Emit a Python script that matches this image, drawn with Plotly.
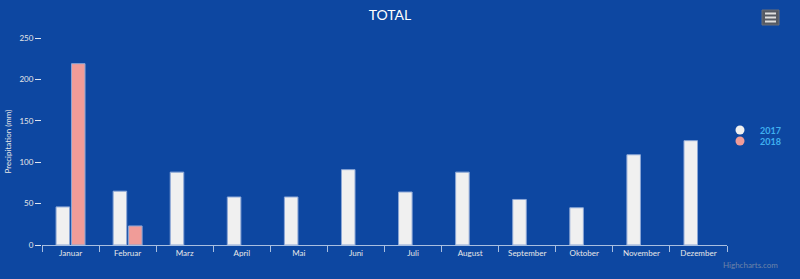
import plotly.graph_objects as go

months = ["Januar", "Februar", "Marz", "April", "Mai", "Juni", "Juli",
          "August", "September", "Oktober", "November", "Dezember"]
series_names = ["2017", "2018"]
values_2017 = [46, 65, 88, 58, 58, 91, 64, 88, 55, 45, 109, 126]
values_2018 = [219, 23, None, None, None, None, None, None, None, None, None, None]
y_ticks = [0, 50, 100, 150, 200, 250]

colors = ["#f0f0f0", "#f09c98"]
BG = "#0d47a1"
W, H = 800, 279
L, R, T, B = 42, 73, 38, 34
pw = W - L - R
ph = H - T - B

def px_x(px):
    return (px - L) / pw

def px_y(py):
    return (H - B - py) / ph

font_family = "Lato, 'Open Sans', sans-serif"
legend_ids = ["legend", "legend2"]
legend_y_px = [130, 141]

fig = go.Figure()
for name, vals, col in zip(series_names, [values_2017, values_2018], colors):
    fig.add_trace(go.Bar(
        x=months, y=vals, name=name, showlegend=False,
        marker=dict(color=col, line=dict(color="#8aa6d6", width=1)),
    ))
for name, col, lid in zip(series_names, colors, legend_ids):
    # legend entry with circle symbol
    fig.add_trace(go.Scatter(
        x=[None], y=[None], mode="markers", name=name, legend=lid,
        marker=dict(symbol="circle", size=9, color=col),
    ))

def legend_cfg(py):
    return dict(x=px_x(720), y=px_y(py), xanchor="left", yanchor="middle",
                xref="paper", yref="paper", bgcolor="rgba(0,0,0,0)",
                borderwidth=0, itemwidth=30,
                font=dict(family=font_family, size=9, color="#3fb0f0", weight="bold"))

fig.update_layout(
    width=W, height=H,
    margin=dict(l=L, r=R, t=T, b=B, autoexpand=False),
    paper_bgcolor=BG, plot_bgcolor=BG,
    barmode="group", bargap=0.46, bargroupgap=0.12,
    title=dict(text="TOTAL", x=390 / W, xref="container", xanchor="center",
               y=1 - 15 / H, yref="container", yanchor="middle",
               font=dict(family=font_family, size=14, color="#ffffff")),
    font=dict(family=font_family, color="#e0e0e0"),
    legend=legend_cfg(legend_y_px[0]),
    legend2=legend_cfg(legend_y_px[1]),
    xaxis=dict(
        categoryorder="array", categoryarray=months,
        showgrid=False, zeroline=False,
        showline=True, linecolor="#a9bfe0", linewidth=1,
        ticks="outside", tickson="boundaries", ticklen=6, tickcolor="#a9bfe0",
        tickfont=dict(size=8, color="#e8e8e8"),
        fixedrange=True,
    ),
    yaxis=dict(
        range=[0, 250], tickvals=y_ticks,
        showgrid=False, zeroline=False, showline=False,
        ticks="outside", ticklen=6, tickcolor="#dfe6f2", tickwidth=1,
        tickfont=dict(size=8, color="#e8e8e8"),
        title=dict(text="Precipitation (mm)", font=dict(size=8, color="#e8e8e8"), standoff=6),
    ),
    shapes=[
        dict(type="rect", xref="paper", yref="paper",
             x0=px_x(762), x1=px_x(779), y0=px_y(25), y1=px_y(10),
             fillcolor="#555a63", line=dict(color="#6a6f78", width=1)),
        dict(type="line", xref="paper", yref="paper",
             x0=px_x(765), x1=px_x(776), y0=px_y(13.5), y1=px_y(13.5),
             line=dict(color="#e0e0e0", width=2)),
        dict(type="line", xref="paper", yref="paper",
             x0=px_x(765), x1=px_x(776), y0=px_y(17.5), y1=px_y(17.5),
             line=dict(color="#e0e0e0", width=2)),
        dict(type="line", xref="paper", yref="paper",
             x0=px_x(765), x1=px_x(776), y0=px_y(21.5), y1=px_y(21.5),
             line=dict(color="#e0e0e0", width=2)),
    ],
    annotations=[
        dict(text="Highcharts.com", xref="paper", yref="paper",
             x=px_x(780), y=px_y(265), xanchor="right", yanchor="middle",
             showarrow=False, font=dict(family=font_family, size=8, color="#6d84a8")),
    ],
)

fig.write_html("out.html", config={"displayModeBar": False})
